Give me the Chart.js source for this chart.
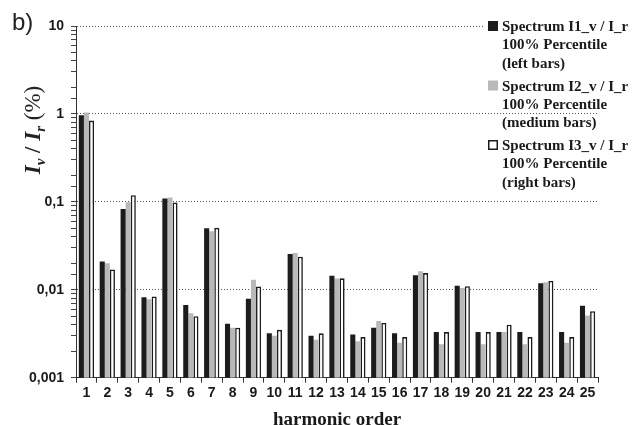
<!DOCTYPE html>
<html>
<head>
<meta charset="utf-8">
<script src="https://cdn.jsdelivr.net/npm/chart.js@4.4.1/dist/chart.umd.min.js"></script>
<style>
  body { margin: 0; background: #fff; }
  #wrap { width: 642px; height: 425px; }
</style>
</head>
<body>
<div id="wrap"><canvas id="myChart" width="642" height="425"></canvas></div>
<script>
// harmonic orders on the x axis
const harmonics = ['1','2','3','4','5','6','7','8','9','10','11','12','13','14','15','16','17','18','19','20','21','22','23','24','25']

// I_v / I_r in %
const spectrumI1 = [0.966, 0.021, 0.083, 0.0082, 0.109, 0.0067, 0.050, 0.0041, 0.0079, 0.0032, 0.0256, 0.0030, 0.0144, 0.0031, 0.0037, 0.0032, 0.0146, 0.0033, 0.0111, 0.0033, 0.0033, 0.0033, 0.0119, 0.0033, 0.0066]
const spectrumI2 = [1.035, 0.020, 0.099, 0.0078, 0.112, 0.0054, 0.0464, 0.0037, 0.013, 0.0030, 0.0262, 0.0027, 0.0134, 0.0026, 0.0044, 0.0025, 0.0162, 0.0024, 0.0105, 0.0024, 0.0033, 0.0024, 0.0122, 0.0025, 0.0051]
const spectrumI3 = [0.84, 0.017, 0.119, 0.0084, 0.098, 0.0050, 0.0507, 0.0037, 0.0109, 0.0035, 0.0238, 0.0032, 0.0135, 0.0029, 0.0042, 0.0029, 0.0155, 0.0033, 0.0110, 0.0033, 0.0040, 0.0029, 0.0126, 0.0029, 0.0057]

const legendLines = [
  ['Spectrum I1_v / I_r', '100% Percentile', '(left bars)'],
  ['Spectrum I2_v / I_r', '100% Percentile', '(medium bars)'],
  ['Spectrum I3_v / I_r', '100% Percentile', '(right bars)']
]

// y tick labels (decimal comma)
const yTickValues = [0.001, 0.01, 0.1, 1, 10]
const yTickLabels = ['0,001', '0,01', '0,1', '1', '10']

function decadeIndex(v) {
  const l = Math.log10(v)
  return yTickValues.findIndex(t => Math.abs(Math.log10(t) - l) < 1e-6)
}

// titles, "b)" and the legend are drawn by hand
const extras = {
  id: 'extras',
  afterDraw(chart) {
    const ctx = chart.ctx
    ctx.save()
    ctx.fillStyle = '#222'
    ctx.textBaseline = 'alphabetic'
    ctx.textAlign = 'left'
    ctx.font = '24px "Liberation Sans"'
    ctx.fillText('b)', 12, 30)

    // y axis label: I_v / I_r (%)
    const parts = [
      { t: 'I', f: 'italic bold 23px "Liberation Serif"', dy: 0 },
      { t: 'v', f: 'italic bold 15px "Liberation Serif"', dy: 5 },
      { t: ' / ', f: 'bold 23px "Liberation Serif"', dy: 0 },
      { t: 'I', f: 'italic bold 23px "Liberation Serif"', dy: 0 },
      { t: 'r', f: 'italic bold 15px "Liberation Serif"', dy: 5 },
      { t: ' (%)', f: '23px "Liberation Serif"', dy: 0 }
    ]
    let total = 0
    parts.forEach(p => { ctx.font = p.f; p.w = ctx.measureText(p.t).width; total += p.w })
    ctx.translate(40, 130)
    ctx.rotate(-Math.PI / 2)
    let x = -total / 2
    parts.forEach(p => { ctx.font = p.f; ctx.fillText(p.t, x, p.dy); x += p.w })
    ctx.setTransform(1, 0, 0, 1, 0, 0)

    // legend
    ctx.font = 'bold 15px "Liberation Serif"'
    chart.data.datasets.forEach((ds, i) => {
      const top = 21 + i * 59.5
      legendLines[i].forEach((line, j) => {
        const cy = top + 5 + j * 18.3
        const w = ctx.measureText(line).width
        ctx.fillStyle = '#fff'
        ctx.fillRect(484, cy - 7, 502 - 484 + w + 2, 14)
        ctx.fillStyle = '#1a1a1a'
        ctx.fillText(line, 502, cy + 5)
      })
      ctx.fillStyle = ds.backgroundColor
      ctx.fillRect(488, top, 10, 10)
      if (ds.borderWidth) {
        ctx.strokeStyle = ds.borderColor
        ctx.lineWidth = 1.5
        ctx.strokeRect(488.75, top + 0.75, 8.5, 8.5)
      }
    })
    ctx.restore()
  }
}

const data = {
  labels: harmonics,
  datasets: [
    { label: legendLines[0].join(' '), data: spectrumI1, backgroundColor: '#1c1c1c', borderWidth: 0 },
    { label: legendLines[1].join(' '), data: spectrumI2, backgroundColor: '#b9b9b9', borderWidth: 0 },
    { label: legendLines[2].join(' '), data: spectrumI3, backgroundColor: '#ffffff', borderColor: '#1c1c1c', borderWidth: 1.6 }
  ]
}

const config = {
  type: 'bar',
  data: data,
  options: {
    responsive: false,
    animation: false,
    layout: { padding: { left: 0, right: 44, top: 26, bottom: 0 } },
    datasets: { bar: { categoryPercentage: 0.73, barPercentage: 1.0 } },
    plugins: { legend: { display: false }, tooltip: { enabled: false } },
    scales: {
      x: {
        afterFit: s => { s.height = 47.3 },
        grid: { drawOnChartArea: false, tickLength: 5, tickColor: '#333', offset: true },
        border: { color: '#333', width: 1 },
        ticks: { autoSkip: false, maxRotation: 0, padding: 2, color: '#1a1a1a', font: { family: 'Liberation Sans', weight: 'bold', size: 14 } },
        title: {
          display: true, text: 'harmonic order', color: '#1a1a1a',
          font: { family: 'Liberation Serif', weight: 'bold', size: 19, lineHeight: 1 },
          padding: { top: 0, bottom: -5 }
        }
      },
      y: {
        type: 'logarithmic',
        min: 0.001,
        max: 10,
        afterFit: s => { s.width = 76 },
        grid: {
          color: c => decadeIndex(c.tick.value) >= 0 ? '#555' : 'rgba(0,0,0,0)',
          tickColor: '#444',
          tickLength: 5,
          lineWidth: 1
        },
        border: { color: '#333', width: 1, dash: [1, 2] },
        ticks: {
          autoSkip: false,
          padding: 7,
          color: '#1a1a1a',
          font: { family: 'Liberation Sans', weight: 'bold', size: 14 },
          callback: v => {
            const i = decadeIndex(v)
            return i >= 0 ? yTickLabels[i] : ''
          }
        }
      }
    }
  },
  plugins: [extras]
}

const myChart = new Chart(document.getElementById('myChart'), config)
</script>
</body>
</html>
